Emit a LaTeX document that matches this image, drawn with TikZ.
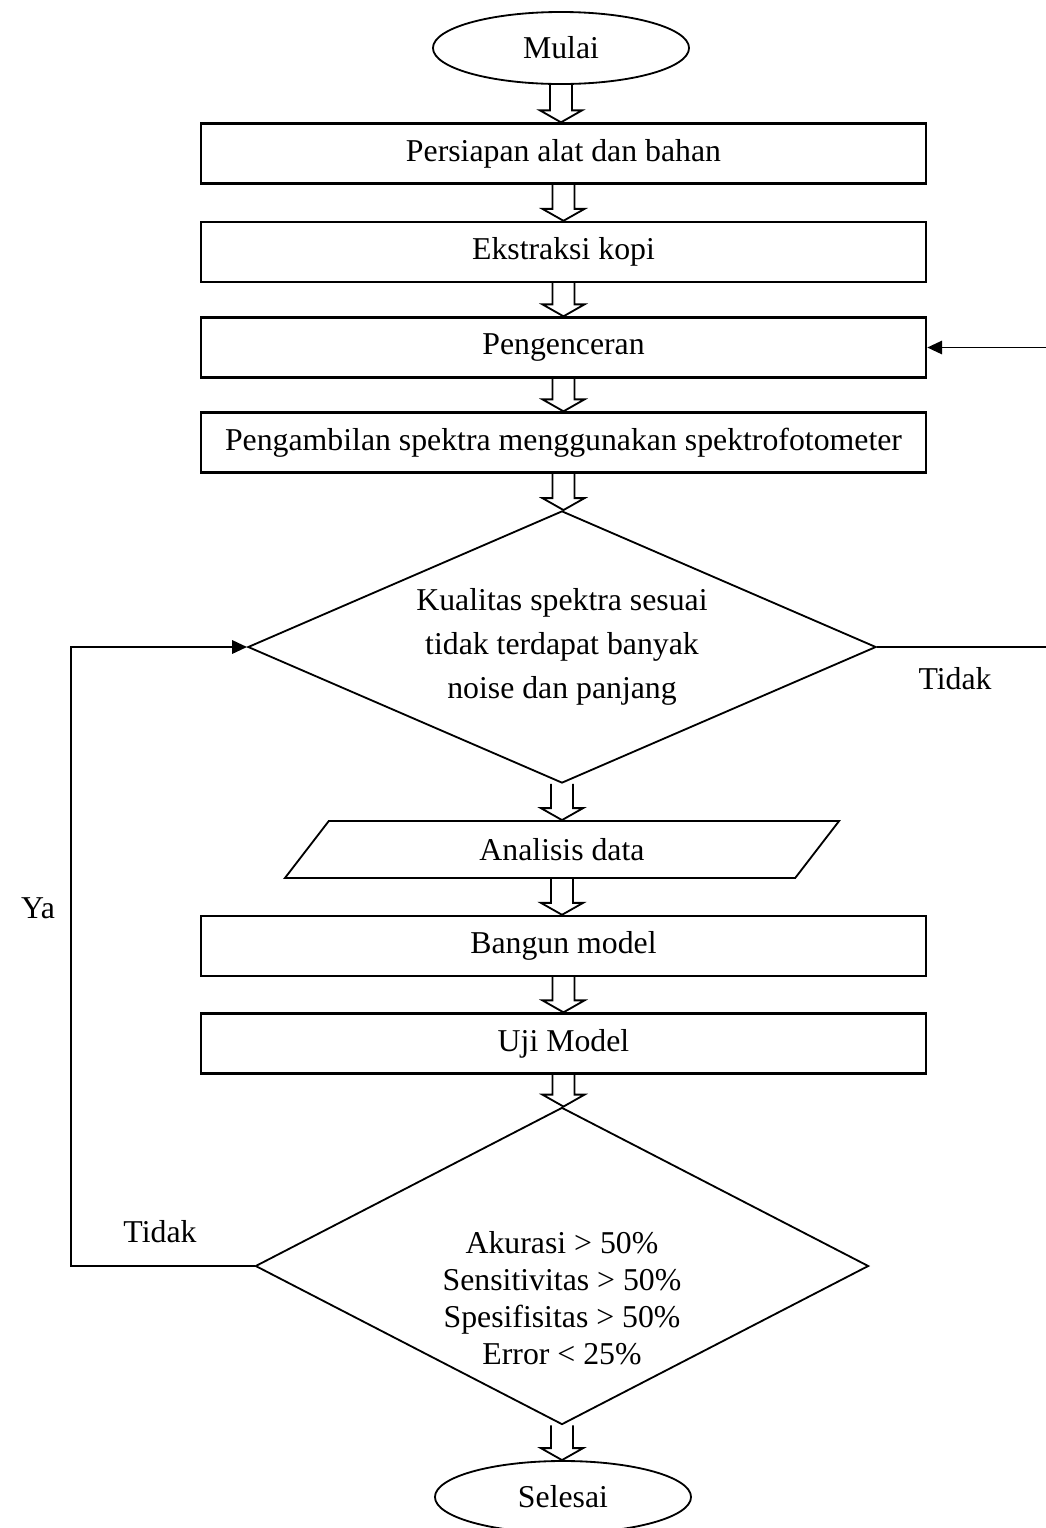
\documentclass[tikz,border=0pt]{standalone}
\usepackage{fontspec}
\setmainfont{Liberation Serif}
\usetikzlibrary{shapes.geometric, positioning, calc, arrows.meta}

% hollow block arrow from the bottom of one node to the top of the next
\newcommand{\hollowarrow}[2]{%
  \draw[line width=1.3pt] let \p1=(#1.south), \p2=(#2.north) in
    (\x1-7.8pt,\y1) -- (\x1-7.8pt,\y2+8.5pt) -- (\x1-15pt,\y2+8.5pt)
    -- (\x1,\y2) -- (\x1+15pt,\y2+8.5pt) -- (\x1+7.8pt,\y2+8.5pt) -- (\x1+7.8pt,\y1);}

\begin{document}
\begin{tikzpicture}[x=0.025cm, y=-0.025cm,
    font=\fontsize{22.6}{27}\selectfont,
    box/.style={draw, line width=1.7pt, minimum width=18.125cm, minimum height=1.5cm, inner sep=0pt},
    terminal/.style={ellipse, draw, line width=1.3pt, minimum width=6.4cm, minimum height=1.8cm, inner sep=0pt},
    decision/.style={diamond, draw, line width=1.3pt, inner sep=0pt},
    io/.style={trapezium, draw, line width=1.3pt, trapezium left angle=27, trapezium right angle=153,
               trapezium stretches body, minimum width=13.85cm, minimum height=1.425cm, inner sep=0pt},
    feedback/.style={line width=1.3pt, -{Triangle[length=10.5pt,width=9.5pt]}}]

    \useasboundingbox (0,0) rectangle (1046,1528);

    % Start and the first steps
    \node[terminal] (mulai) at (561,48) {Mulai};
    \node[box] (persiapan) at (563.5,153.5) {Persiapan alat dan bahan};
    \node[box] (ekstraksi) at (563.5,252) {Ekstraksi kopi};
    \node[box] (pengenceran) at (563.5,347.5) {Pengenceran};
    \node[box] (spektra) at (563.5,442.5) {Pengambilan spektra menggunakan spektrofotometer};

    % First check: spectrum quality
    \node[decision, aspect=2.3, minimum width=15.7cm, minimum height=6.8cm, align=center,
          font=\fontsize{22.6}{31.3}\selectfont] (kualitas) at (562,647)
          {Kualitas spektra sesuai\\tidak terdapat banyak\\noise dan panjang};

    % Modelling steps
    \node[io] (analisis) at (562,849.5) {Analisis data};
    \node[box] (bangun) at (563.5,946) {Bangun model};
    \node[box] (uji) at (563.5,1043.5) {Uji Model};

    % Second check: model performance
    \node[decision, aspect=1.93, minimum width=15.325cm, minimum height=7.925cm] (evaluasi) at (562,1266) {};
    \node[align=center, font=\fontsize{22.6}{26.3}\selectfont] (syarat) at (562,1298)
          {Akurasi > 50\%\\Sensitivitas > 50\%\\Spesifisitas > 50\%\\Error < 25\%};

    % End
    \node[terminal] (selesai) at (563,1497) {Selesai};

    % Block arrows down the main line
    \hollowarrow{mulai}{persiapan}
    \hollowarrow{persiapan}{ekstraksi}
    \hollowarrow{ekstraksi}{pengenceran}
    \hollowarrow{pengenceran}{spektra}
    \hollowarrow{spektra}{kualitas}
    \hollowarrow{kualitas}{analisis}
    \hollowarrow{analisis}{bangun}
    \hollowarrow{bangun}{uji}
    \hollowarrow{uji}{evaluasi}
    \hollowarrow{evaluasi}{selesai}

    % Loops back
    \coordinate (kanan) at (1060,0);
    \coordinate (kiri) at (71,0);
    \draw[feedback] (kualitas.east) -- (kualitas.east -| kanan) |- (pengenceran.east);
    \draw[feedback] (evaluasi.west) -- (evaluasi.west -| kiri) |- (kualitas.west);

    % Branch labels
    \node (tidakkanan) at (955,679) {Tidak};
    \node (ya) at (38,908) {Ya};
    \node (tidakkiri) at (160,1232) {Tidak};

\end{tikzpicture}
\end{document}
